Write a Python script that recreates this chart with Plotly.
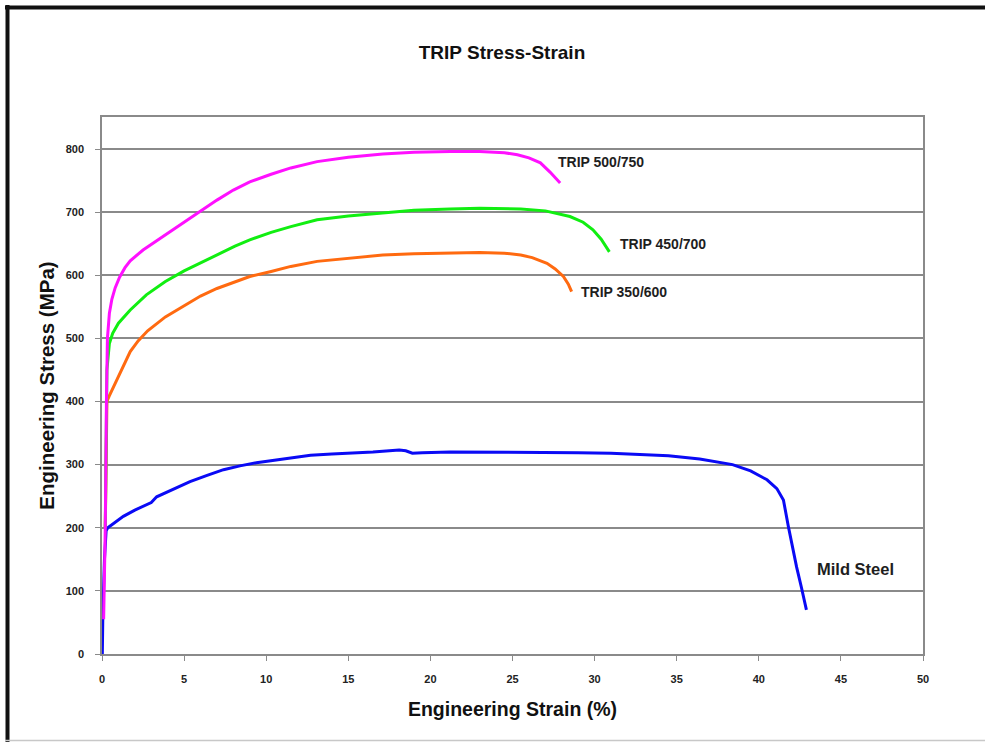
import plotly.graph_objects as go

# Engineering strain (%) and engineering stress (MPa) for each steel grade
mild_strain = [0.02, 0.05, 0.15, 0.25, 0.35, 0.8, 1.3, 2.0, 2.6, 3.0, 3.33, 4.3, 5.36, 6.4, 7.4,
               8.4, 9.4, 10.5, 11.4, 12.7, 14.0, 15.1, 16.5, 18.1, 18.5, 18.9, 19.5, 21.2, 23.0,
               25.3, 27.3, 29.0, 31.0, 33.0, 34.5, 36.4, 37.5, 38.4, 39.5, 40.5, 41.1, 41.5,
               41.8, 42.0, 42.3, 42.6, 42.9]
mild_stress = [0, 60, 150, 195, 200, 208, 218, 228, 236, 240, 249, 261, 273, 283, 292,
               298, 303, 307, 310, 315, 317, 318, 320, 323, 322, 318, 319, 320, 320,
               320, 320, 319, 318, 316, 314, 309, 304, 300, 290, 276, 262, 244,
               202, 175, 138, 105, 70]

trip350_strain = [0.2, 0.25, 0.3, 0.43, 0.65, 1.07, 1.4, 1.72, 2.2, 2.78, 3.86, 5.0, 6.0, 7.0,
                  8.1, 9.0, 10.3, 11.5, 13.1, 15.0, 17.1, 19.0, 21.2, 23.0, 24.5, 25.5, 26.2,
                  27.1, 27.6, 28.1, 28.4, 28.6]
trip350_stress = [200, 350, 400, 408, 420, 442, 462, 479, 496, 512, 534, 551, 567, 579,
                  590, 598, 606, 614, 622, 627, 632, 634, 635, 636, 635, 632, 628,
                  619, 610, 598, 586, 574]

trip450_strain = [0.2, 0.25, 0.3, 0.45, 0.65, 1.0, 1.72, 2.7, 3.86, 5.0, 6.0, 7.0, 8.1, 9.0,
                  10.3, 11.5, 13.1, 15.0, 17.1, 19.0, 21.2, 23.0, 25.5, 27.0, 28.5, 29.3,
                  29.9, 30.4, 30.9]
trip450_stress = [200, 380, 450, 492, 508, 524, 545, 569, 590, 607, 620, 633, 646, 656,
                  668, 677, 688, 694, 699, 703, 705, 706, 705, 702, 693, 684,
                  672, 657, 637]

trip500_strain = [0.1, 0.2, 0.27, 0.33, 0.45, 0.6, 0.8, 1.07, 1.4, 1.72, 2.5, 3.86, 5.0,
                  6.0, 7.0, 8.0, 9.0, 10.3, 11.5, 13.1, 15.0, 17.1, 19.0, 21.2, 23.0, 24.5,
                  25.3, 26.0, 26.7, 27.3, 27.9]
trip500_stress = [55, 200, 400, 500, 540, 562, 580, 597, 612, 623, 640, 664, 685,
                  702, 719, 735, 748, 760, 770, 780, 787, 792, 795, 796, 796, 794,
                  791, 786, 778, 763, 746]

x_ticks = [0, 5, 10, 15, 20, 25, 30, 35, 40, 45, 50]
y_ticks = [0, 100, 200, 300, 400, 500, 600, 700, 800]

series = [
    ("Mild Steel", mild_strain, mild_stress, "#0a0af5"),
    ("TRIP 350/600", trip350_strain, trip350_stress, "#ff6a10"),
    ("TRIP 450/700", trip450_strain, trip450_stress, "#11ee11"),
    ("TRIP 500/750", trip500_strain, trip500_stress, "#ff10ff"),
]

fig = go.Figure()
for name, xs, ys, color in series:
    fig.add_trace(go.Scatter(x=xs, y=ys, mode="lines", name=name,
                             line=dict(color=color, width=3), showlegend=False))

# Curve labels, placed just right of each curve's end
label_font = dict(family="Liberation Sans, Arial, sans-serif", size=14, color="#1e1e1e")
labels = [
    ("<b>TRIP 500/750</b>", 27.65, 780, 14),
    ("<b>TRIP 450/700</b>", 31.4, 650, 14),
    ("<b>TRIP 350/600</b>", 29.05, 573, 14),
    ("<b>Mild Steel</b>", 43.4, 134, 16.5),
]
for text, lx, ly, size in labels:
    fig.add_annotation(x=lx, y=ly, text=text, showarrow=False, xanchor="left",
                       yanchor="middle", font=dict(label_font, size=size))

# Dark frame around the chart (top and left) and a faint bottom rule
L, T, W, H = 102, 117, 821, 537
def px(xp):
    return (xp - L) / W
def py(yp):
    return (T + H - yp) / H

fig.add_shape(type="line", xref="paper", yref="paper", x0=px(5), x1=px(990),
              y0=py(7.5), y1=py(7.5), line=dict(color="#111111", width=4))
fig.add_shape(type="line", xref="paper", yref="paper", x0=px(7.5), x1=px(7.5),
              y0=py(5), y1=py(745), line=dict(color="#111111", width=4))
fig.add_shape(type="line", xref="paper", yref="paper", x0=px(5), x1=px(990),
              y0=py(740.5), y1=py(740.5), line=dict(color="#c8c8c8", width=1.5))

axis_common = dict(
    showline=True, linecolor="#8a8a8a", linewidth=1.5, mirror=True,
    ticks="outside", ticklen=5, tickcolor="#8a8a8a", tickwidth=1,
    tickfont=dict(family="Liberation Sans, Arial, sans-serif", size=11, color="#222222",
                  weight="bold"),
    zeroline=False,
)

fig.update_layout(
    width=985, height=742, autosize=False,
    margin=dict(l=L, r=985 - L - W, t=T, b=742 - T - H, pad=0),
    paper_bgcolor="white", plot_bgcolor="white",
    title=dict(text="<b>TRIP Stress-Strain</b>", x=(502) / 985, xanchor="center",
               y=1 - 52 / 742, yanchor="middle",
               font=dict(family="Liberation Sans, Arial, sans-serif", size=19, color="#111111")),
    xaxis=dict(axis_common, range=[0, 50], tickvals=x_ticks, showgrid=False,
               ticklabelstandoff=9,
               title=dict(text="<b>Engineering Strain (%)</b>", standoff=18,
                          font=dict(family="Liberation Sans, Arial, sans-serif", size=19.5,
                                    color="#111111"))),
    yaxis=dict(axis_common, range=[0, 850.7], tickvals=y_ticks, showgrid=True,
               gridcolor="#8a8a8a", gridwidth=1.5, ticklabelstandoff=9,
               title=dict(text="<b>Engineering Stress (MPa)</b>", standoff=6,
                          font=dict(family="Liberation Sans, Arial, sans-serif", size=20.5,
                                    color="#111111"))),
)

fig.write_html("out.html")
